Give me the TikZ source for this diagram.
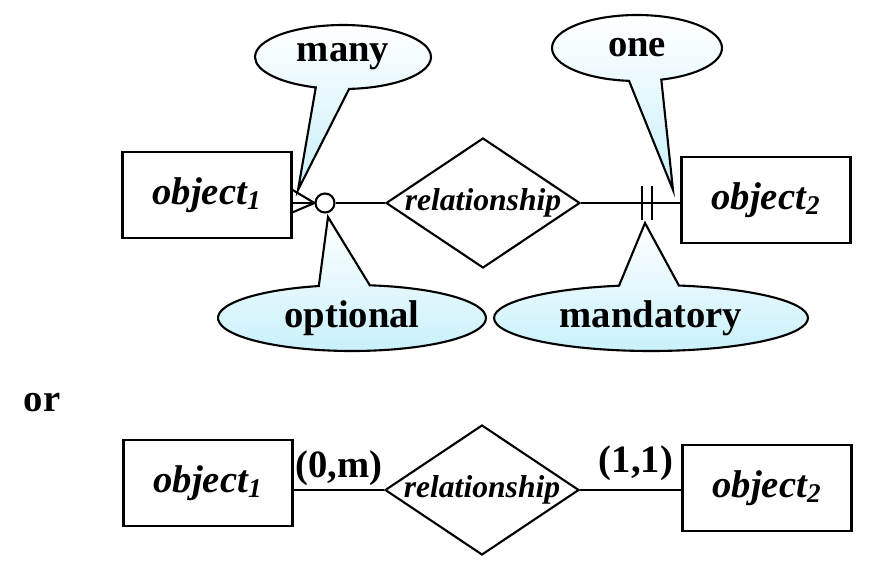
\documentclass[tikz,border=0pt]{standalone}
\usepackage{fontspec}
\setmainfont{Liberation Serif}
\usetikzlibrary{shapes.geometric, shapes.callouts}
\definecolor{calloutcyan}{RGB}{200,240,250}
\begin{document}
\begin{tikzpicture}[x=0.02cm, y=-0.02cm, line width=1.2pt,
            entity/.style={draw, rectangle, minimum width=3.38cm, minimum height=1.72cm, inner sep=0pt, font=\fontsize{22}{26}\selectfont\bfseries\itshape},
            relation/.style={draw, diamond, aspect=1.5, inner sep=-1pt, minimum width=3.88cm, minimum height=2.6cm, font=\fontsize{18}{22}\selectfont\bfseries\itshape},
            note/.style={ellipse callout, draw, top color=white, bottom color=calloutcyan, inner sep=0pt, callout pointer arc=22, font=\fontsize{22}{26}\selectfont\bfseries},
            card/.style={inner sep=0pt, font=\fontsize{22}{26}\selectfont\bfseries}]
            \useasboundingbox (0,0) rectangle (876,578);

            % crow's foot notation
            \node[entity] (obj1) at (207,195) {object\textsubscript{1}};
            \node[entity] (obj2) at (766,200) {object\textsubscript{2}};
            \node[relation] (rel) at (483,203) {relationship};
            \node[draw, circle, fill=white, minimum size=0.38cm, inner sep=0pt] (opt) at (325,203) {};

            \coordinate (manytip) at (298,190);
            \coordinate (onetip) at (673,190);
            \coordinate (opttip) at (328,217);
            \coordinate (mandtip) at (645,223);

            \draw (opt) -- (rel);
            \draw (rel.east) -- (rel.east -| obj2.west);
            \draw (opt.west) -- (291,189);
            \draw (opt.west) -- (292,203);
            \draw (opt.west) -- (291,213);
            \foreach \x in {642,652}
                \draw[line width=1.5pt] (\x,186) -- (\x,220);

            % callouts
            \node[note, minimum width=3.52cm, minimum height=1.28cm, callout absolute pointer=(manytip)] (many) at (343,57) {many};
            \node[note, minimum width=3.4cm, minimum height=1.32cm, callout absolute pointer=(onetip)] (one) at (637,48) {one};
            \node[note, minimum width=5.36cm, minimum height=1.32cm, callout absolute pointer=(opttip)] (optional) at (352,318) {optional};
            \node[note, minimum width=6.28cm, minimum height=1.32cm, callout absolute pointer=(mandtip)] (mandatory) at (651,318) {mandatory};

            % min-max notation
            \node[card] (or) at (42,403) {or};
            \node[entity] (obj1b) at (208,483) {object\textsubscript{1}};
            \node[entity] (obj2b) at (767,488) {object\textsubscript{2}};
            \node[relation] (relb) at (482,490) {relationship};

            \draw (relb.west -| obj1b.east) -- (relb.west);
            \draw (relb.east) -- (relb.east -| obj2b.west);
            \node[card] (card1) at (339,468) {(0,m)};
            \node[card] (card2) at (636,463) {(1,1)};
        \end{tikzpicture}
\end{document}
